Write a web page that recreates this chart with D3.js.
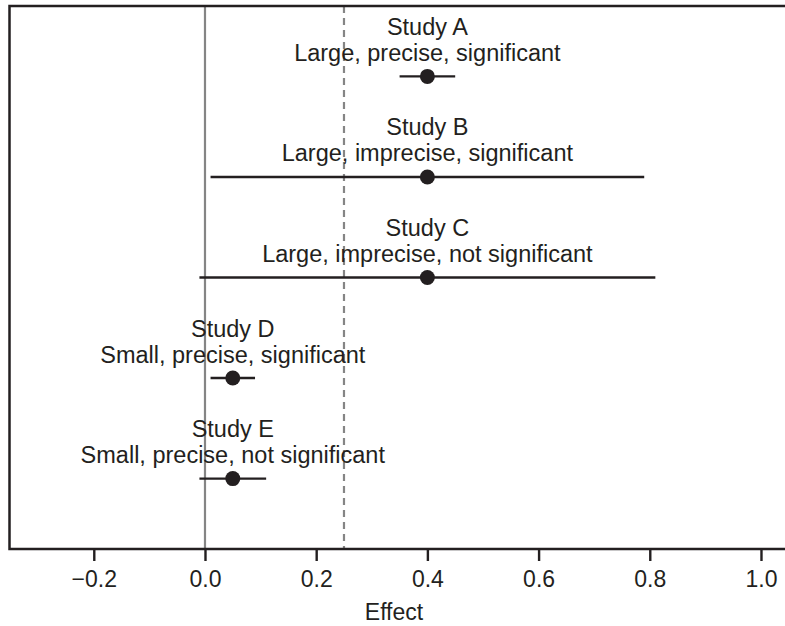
<!DOCTYPE html>
<html>
<head>
<meta charset="utf-8">
<script src="https://cdn.jsdelivr.net/npm/d3@7"></script>
<style>
  body { margin: 0; background: #fff; }
  svg text { font-family: "Liberation Sans", Arial, sans-serif; fill: #231f20; }
</style>
</head>
<body>
<div id="holder"></div>
<script>
// study data
const studies = ["Study A", "Study B", "Study C", "Study D", "Study E"];
const descriptions = [
    "Large, precise, significant",
    "Large, imprecise, significant",
    "Large, imprecise, not significant",
    "Small, precise, significant",
    "Small, precise, not significant"
];
const estimates = [0.40, 0.40, 0.40, 0.05, 0.05];
const lowerCI = [0.35, 0.01, -0.01, 0.01, -0.01];
const upperCI = [0.45, 0.79, 0.81, 0.09, 0.11];
const rows = [5, 4, 3, 2, 1];
const xTicks = [-0.2, 0.0, 0.2, 0.4, 0.6, 0.8, 1.0];
const nullEffect = 0;
const referenceEffect = 0.25;

const width = 785;
const height = 626;
const ink = "#231f20";
const grey = "#858585";

const plotLeft = 9.5, plotRight = 787, plotTop = 6, plotBottom = 549;

const xScale = d3.scaleLinear()
                .domain([-0.3516, 1.0468])
                .range([plotLeft, plotRight]);
const yScale = d3.scaleLinear()
                .domain([0.3, 5.7])
                .range([plotBottom, plotTop]);

const svg = d3.select("#holder")
            .append("svg")
            .attr("width", width)
            .attr("height", height);

// reference lines
svg.append("line")
    .attr("x1", xScale(nullEffect)).attr("x2", xScale(nullEffect))
    .attr("y1", plotTop).attr("y2", plotBottom)
    .attr("stroke", grey).attr("stroke-width", 2.2);
svg.append("line")
    .attr("x1", xScale(referenceEffect)).attr("x2", xScale(referenceEffect))
    .attr("y1", plotTop).attr("y2", plotBottom)
    .attr("stroke", grey).attr("stroke-width", 2.2)
    .attr("stroke-dasharray", "7,5");

const dataset = studies.map((s, i) => ({
    name: s, desc: descriptions[i], est: estimates[i],
    lo: lowerCI[i], hi: upperCI[i], row: rows[i]
}));

// confidence intervals
svg.selectAll(".ci")
    .data(dataset)
    .enter()
    .append("line")
    .attr("class", "ci")
    .attr("x1", d => xScale(d.lo))
    .attr("x2", d => xScale(d.hi))
    .attr("y1", d => yScale(d.row))
    .attr("y2", d => yScale(d.row))
    .attr("stroke", ink)
    .attr("stroke-width", 2.4);

svg.selectAll(".dot")
    .data(dataset)
    .enter()
    .append("circle")
    .attr("class", "dot")
    .attr("cx", d => xScale(d.est))
    .attr("cy", d => yScale(d.row))
    .attr("r", 7.5)
    .attr("fill", ink);

// labels above each point
svg.selectAll(".name")
    .data(dataset)
    .enter()
    .append("text")
    .attr("class", "name")
    .attr("x", d => xScale(d.est))
    .attr("y", d => yScale(d.row) - 41.5)
    .attr("text-anchor", "middle")
    .style("font-size", "23.5px")
    .text(d => d.name);

svg.selectAll(".desc")
    .data(dataset)
    .enter()
    .append("text")
    .attr("class", "desc")
    .attr("x", d => xScale(d.est))
    .attr("y", d => yScale(d.row) - 15.5)
    .attr("text-anchor", "middle")
    .style("font-size", "23.5px")
    .text(d => d.desc);

// frame (right side falls outside the picture)
svg.append("path")
    .attr("d", `M${plotRight + 5},${plotTop} H${plotLeft} V${plotBottom} H${plotRight + 5}`)
    .attr("fill", "none")
    .attr("stroke", ink)
    .attr("stroke-width", 2.5);

const xAxis = d3.axisBottom(xScale)
                .tickValues(xTicks)
                .tickSize(12)
                .tickPadding(10)
                .tickFormat(d3.format(".1f"));

const gx = svg.append("g")
    .attr("transform", `translate(0, ${plotBottom})`)
    .call(xAxis);
gx.select(".domain").remove();
gx.selectAll(".tick line").attr("stroke", ink).attr("stroke-width", 2.4);
gx.selectAll(".tick text")
    .attr("fill", ink)
    .style("font-size", "23px")
    .style("font-family", "'Liberation Sans', Arial, sans-serif");

svg.append("text")
    .attr("x", 394)
    .attr("y", 620)
    .attr("text-anchor", "middle")
    .style("font-size", "23px")
    .text("Effect");
</script>
</body>
</html>
